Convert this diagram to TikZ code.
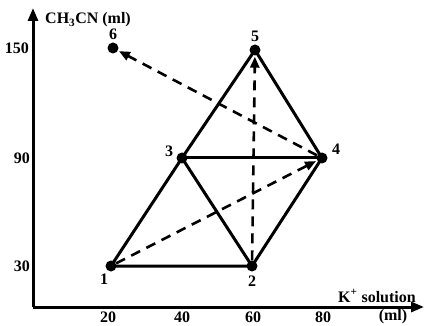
\documentclass[tikz,border=0pt]{standalone}
\usepackage{fontspec}
\setmainfont{Liberation Serif}
\usetikzlibrary{arrows.meta}
\begin{document}
\begin{tikzpicture}[x=1pt,y=-1pt,
  dot/.style={circle,fill=black,inner sep=0pt,minimum size=11pt},
  lbl/.style={font=\bfseries\fontsize{16}{18}\selectfont,inner sep=1pt},
  solid edge/.style={line width=3pt,line cap=round},
  dash edge/.style={line width=2.6pt,dash pattern=on 10pt off 7pt,-{Triangle[length=11pt,width=9pt]},shorten >=1pt},
  axis/.style={line width=3pt,-{Triangle[length=13pt,width=10pt]}}]
\useasboundingbox (0,0) rectangle (426,326);
% axes
\coordinate (O) at (33,307);
\coordinate (ytip) at (33,8);
\coordinate (xtip) at (424,307);
\draw[axis] (O) -- (ytip);
\draw[axis] (O) -- (xtip);
% axis labels
\node[lbl,anchor=west] (ylab) at (44,20) {CH\textsubscript{3}CN (ml)};
\node[lbl] (xlab) at (377,296) {K\textsuperscript{+} solution};
\node[lbl,anchor=east] (t150) at (30,48) {150};
\node[lbl,anchor=east] (t90) at (31,158) {90};
\node[lbl,anchor=east] (t30) at (31,266) {30};
\node[lbl] (t20) at (108,317) {20};
\node[lbl] (t40) at (182,317) {40};
\node[lbl] (t60) at (253,317) {60};
\node[lbl] (t80) at (323,317) {80};
\node[lbl] (tml) at (393,317) {(ml)};
% points
\node[dot] (p1) at (111,266) {};
\node[dot] (p2) at (252,266) {};
\node[dot] (p3) at (182,158) {};
\node[dot] (p4) at (322,158) {};
\node[dot] (p5) at (255,50) {};
\node[dot] (p6) at (113,48) {};
\node[lbl] (l1) at (104,279) {1};
\node[lbl] (l2) at (252,281) {2};
\node[lbl] (l3) at (169,151) {3};
\node[lbl] (l4) at (336,149) {4};
\node[lbl] (l5) at (255,36) {5};
\node[lbl] (l6) at (113,34) {6};
% solid edges
\draw[solid edge] (p1.center) -- (p2.center) -- (p4.center) -- (p5.center) -- (p3.center) -- (p1.center);
\draw[solid edge] (p3.center) -- (p4.center);
\draw[solid edge] (p3.center) -- (p2.center);
% dashed edges
\draw[dash edge] (p1) -- (p4);
\draw[dash edge] (p2) -- (p5);
\draw[dash edge] (p4) -- (p6);
\end{tikzpicture}
\end{document}
